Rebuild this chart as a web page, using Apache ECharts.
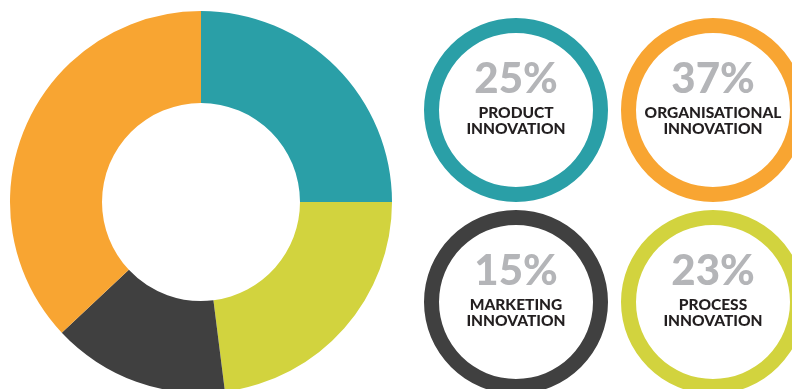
<!DOCTYPE html>
<html>
<head>
<meta charset="utf-8">
<script src="https://cdn.jsdelivr.net/npm/echarts@6/dist/echarts.min.js"></script>
<style>
  html, body { margin: 0; padding: 0; background: #ffffff; }
  #chart { width: 792px; height: 389px; }
</style>
</head>
<body>
<div id="chart"></div>
<script>
// Innovation types, in clockwise order around the donut starting at 12 o'clock
const categories = ['Product Innovation', 'Process Innovation', 'Marketing Innovation', 'Organisational Innovation'];
const shares = [25, 23, 15, 37];
const labelLines = [['PRODUCT', 'INNOVATION'], ['PROCESS', 'INNOVATION'], ['MARKETING', 'INNOVATION'], ['ORGANISATIONAL', 'INNOVATION']];
const colors = ['#2a9fa7', '#d2d33e', '#404040', '#f8a532'];
// Ring centres for each category's badge (same order as categories)
const ringCenters = [[516, 110], [713, 302], [516, 302], [713, 110]];

const series = [{
  type: 'pie',
  center: [201, 202],
  radius: [99, 191],
  startAngle: 90,
  clockwise: true,
  silent: true,
  label: { show: false },
  labelLine: { show: false },
  itemStyle: { borderWidth: 0 },
  data: categories.map((c, i) => ({ name: c, value: shares[i], itemStyle: { color: colors[i] } }))
}];

categories.forEach((c, i) => {
  series.push({
    type: 'pie',
    center: ringCenters[i],
    radius: [77, 92],
    silent: true,
    labelLine: { show: false },
    itemStyle: { borderWidth: 0, color: colors[i] },
    label: {
      show: true,
      position: 'center',
      formatter: () => '{pct|' + shares[i] + '%}\n{nm|' + labelLines[i][0] + '}\n{nm|' + labelLines[i][1] + '}\n{gap|}',
      rich: {
        pct: { fontFamily: 'Lato', fontWeight: 900, fontSize: 42, color: '#b4b5b8', lineHeight: 52 },
        nm: { fontFamily: 'Lato', fontWeight: 900, fontSize: 15.5, color: '#231f20', lineHeight: 16 },
        gap: { fontSize: 10, lineHeight: 30 }
      }
    },
    data: [{ name: c, value: shares[i] }]
  });
});

const chart = echarts.init(document.getElementById('chart'), null, { renderer: 'canvas' });
chart.setOption({ animation: false, series: series });
</script>
</body>
</html>
